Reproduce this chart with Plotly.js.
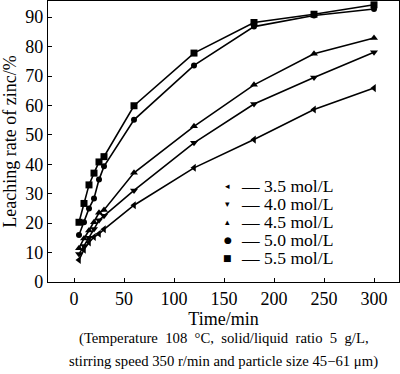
<!DOCTYPE html>
<html><head><meta charset="utf-8">
<script src="https://cdn.plot.ly/plotly-3.0.1.min.js"></script>
<style>html,body{margin:0;padding:0;background:#fff}#chart{width:400px;height:374px}</style>
</head><body><div id="chart"></div>
<script>
const time = [5,10,15,20,25,30,60,120,180,240,300];
const c35 = [7.5,11.0,13.4,15.3,16.4,17.9,26.1,38.8,48.4,58.6,65.9];
const c40 = [9.5,12.2,15.0,18.0,21.0,22.5,31.1,47.3,60.5,69.5,78.1];
const c45 = [11.5,14.8,17.5,20.3,23.5,24.5,37.1,52.9,67.0,77.6,82.9];
const c50 = [16.0,20.3,25.0,28.4,34.8,39.3,55.1,73.6,86.8,90.6,92.8];
const c55 = [20.3,26.7,33.0,37.0,40.8,42.6,59.9,77.8,88.2,91.0,94.2];
const seriesNames = ["3.5 mol/L","4.0 mol/L","4.5 mol/L","5.0 mol/L","5.5 mol/L"];
const seriesValues = [c35,c40,c45,c50,c55];
const symbols = ["triangle-left","triangle-down","triangle-up","circle","square"];
const glyphs = ["◂","▾","▴","●","■"];
const xTicks = [0,50,100,150,200,250,300];
const yTicks = [0,10,20,30,40,50,60,70,80,90];

const font = "Liberation Serif, Times New Roman, serif";
const traces = seriesValues.map((v,i)=>({
  x: time, y: v, name: seriesNames[i], type:"scatter", mode:"lines+markers",
  line:{color:"#000", width:1.6},
  marker:{symbol:symbols[i], size: (symbols[i]==="circle"?6:7), color:"#000"},
  showlegend:false
}));

const ann = [];
seriesNames.forEach((n,i)=>{
  const yp = 0.34 - i*0.064;
  ann.push({xref:"paper", yref:"paper", x:0.512, y:yp, xanchor:"center", yanchor:"middle",
    text:glyphs[i], showarrow:false, borderpad:0, font:{family:"DejaVu Sans", size:9, color:"#000"}});
});
ann.push({xref:"paper", yref:"paper", x:0.547, y:0.212, xanchor:"left", yanchor:"middle", align:"left",
  text: seriesNames.map(n=>"<span style='font-size:17.6px'>— "+n+"</span>").join("<br>"),
  showarrow:false, borderpad:0, font:{family:font, size:13.9, color:"#000"}});
ann.push({xref:"paper", yref:"paper", x:0.5, y:-0.2, xanchor:"center", yanchor:"middle", showarrow:false,
  text:"(Temperature&nbsp; 108&nbsp; °C,&nbsp; solid/liquid&nbsp; ratio&nbsp; 5&nbsp; g/L,", font:{family:font, size:14.7, color:"#000"}});
ann.push({xref:"paper", yref:"paper", x:0.5, y:-0.282, xanchor:"center", yanchor:"middle", showarrow:false,
  text:"stirring speed 350 r/min and particle size 45−61 μm)", font:{family:font, size:14.7, color:"#000"}});

const layout = {
  width:400, height:374,
  margin:{l:48, r:1, t:1, b:91.5},
  paper_bgcolor:"#fff", plot_bgcolor:"#fff",
  font:{family:font, size:18, color:"#000"},
  xaxis:{range:[-26,325], tickvals:xTicks, ticks:"inside", ticklen:4, tickcolor:"#000",
    showline:true, linecolor:"#000", linewidth:1.2, mirror:true, showgrid:false, zeroline:false,
    tickfont:{family:font, size:18}, title:{text:"Time/min", font:{family:font, size:18, weight:"normal"}, standoff:1}},
  yaxis:{range:[0,95.5], tickvals:yTicks, ticks:"inside", ticklen:4, tickcolor:"#000",
    showline:true, linecolor:"#000", linewidth:1.2, mirror:true, showgrid:false, zeroline:false,
    tickfont:{family:font, size:18}, title:{text:"Leaching rate of zinc/%", font:{family:font, size:18, weight:"normal"}, standoff:4}},
  annotations: ann
};
Plotly.newPlot("chart", traces, layout, {staticPlot:true, displayModeBar:false});
</script></body></html>
